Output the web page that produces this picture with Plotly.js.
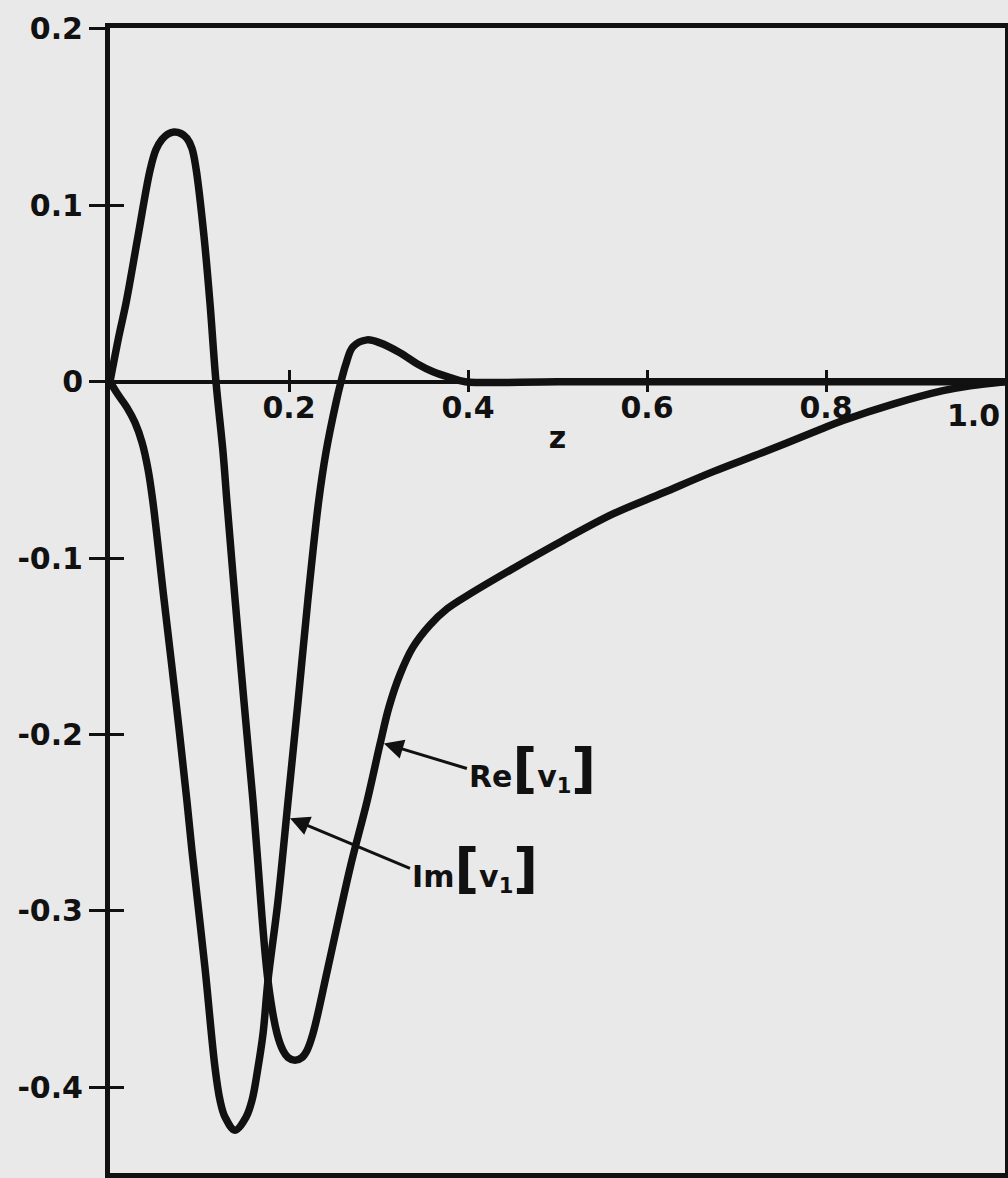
<!DOCTYPE html>
<html>
<head>
<meta charset="utf-8">
<script src="https://cdn.plot.ly/plotly-3.0.1.min.js"></script>
<style>
  html, body { margin: 0; padding: 0; background: #e9e9e9; }
  #chart { width: 1008px; height: 1178px; }
</style>
</head>
<body>
<div id="chart"></div>
<script>
// ---- data ----
const reZ = [0, 0.010, 0.0179, 0.0313, 0.0447, 0.0514, 0.0581, 0.0648, 0.0715, 0.0793, 0.086, 0.0916, 0.0961, 0.105, 0.1117, 0.1184,
  0.1263, 0.1307, 0.1397, 0.1497, 0.1598, 0.1642, 0.1765, 0.1866, 0.1933, 0.1989, 0.2067, 0.2145, 0.2201, 0.2268, 0.2436, 0.2682, 0.2872,
  0.3017, 0.3117, 0.324, 0.3385, 0.3575, 0.3765, 0.4022, 0.450, 0.506, 0.562, 0.618, 0.674, 0.730, 0.7933, 0.819, 0.8749, 0.9307, 0.961, 1.0];
const reV = [0, 0.026, 0.0446, 0.0825, 0.1198, 0.1316, 0.1373, 0.1404, 0.1415, 0.1407, 0.1379, 0.1322, 0.1209, 0.0825, 0.0446, 0,
  -0.0401, -0.0684, -0.1232, -0.1814, -0.2379, -0.2661, -0.3395, -0.3695, -0.3791, -0.3831, -0.3847, -0.3831, -0.3791, -0.3695, -0.332, -0.2757, -0.2379,
  -0.2055, -0.1845, -0.1660, -0.1505, -0.1379, -0.1288, -0.1203, -0.106, -0.090, -0.075, -0.063, -0.051, -0.040, -0.0271, -0.022, -0.0127, -0.0051, -0.0023, 0];

const imZ = [0, 0.0089, 0.019, 0.0279, 0.0358, 0.0425, 0.048, 0.0603, 0.0737, 0.086, 0.0916, 0.1061, 0.1173, 0.1229, 0.1285, 0.1397,
  0.152, 0.1587, 0.1654, 0.171, 0.1765, 0.1877, 0.1989, 0.2101, 0.2212, 0.2330, 0.2413, 0.2525, 0.2581, 0.2637, 0.2715, 0.2872, 0.3017,
  0.324, 0.343, 0.361, 0.380, 0.397, 0.5, 0.7, 1.0];
const imV = [0, -0.0073, -0.0147, -0.0232, -0.0345, -0.0497, -0.0684, -0.1232, -0.1814, -0.2379, -0.266, -0.3322, -0.3887, -0.4073, -0.4169, -0.4243,
  -0.4169, -0.4073, -0.3887, -0.3695, -0.3395, -0.2944, -0.2379, -0.1814, -0.1232, -0.0684, -0.0401, -0.0119, 0, 0.0102, 0.0198, 0.0237, 0.022,
  0.0164, 0.0102, 0.0056, 0.0023, 0, 0, 0, 0];

const yTickVals = [-0.4, -0.3, -0.2, -0.1, 0, 0.1, 0.2];
const yTickText = ['-0.4', '-0.3', '-0.2', '-0.1', '0', '0.1', '0.2'];
const xTickVals = [0.2, 0.4, 0.6, 0.8];
const xTickText = ['0.2', '0.4', '0.6', '0.8'];
const xEndLabel = '1.0';
const xTitle = 'z';
const reLabel = 'Re<span style="font-size:54px">[</span>v<sub>1</sub><span style="font-size:54px">]</span>';
const imLabel = 'Im<span style="font-size:54px">[</span>v<sub>1</sub><span style="font-size:54px">]</span>';
const reArrowAt = [0.306, -0.2051];
const imArrowAt = [0.2011, -0.2475];

// ---- chart ----
const INK = '#111111';
const BG = '#e9e9e9';
const FAM = 'DejaVu Sans, Arial, sans-serif';
const yRange = [-0.4486, 0.2005];
const xRange = [0, 1.0];
const zeroPos = (0 - yRange[0]) / (yRange[1] - yRange[0]);

const lineStyle = { color: INK, width: 7.5, shape: 'spline', smoothing: 1 };

const helper = (xa, ya) => ({ x: [null], y: [null], xaxis: xa, yaxis: ya, type: 'scatter', mode: 'lines', showlegend: false, hoverinfo: 'skip' });

const traces = [
  { x: reZ, y: reV, type: 'scatter', mode: 'lines', line: lineStyle, name: 'Re[v1]', showlegend: false, hoverinfo: 'skip' },
  { x: imZ, y: imV, type: 'scatter', mode: 'lines', line: lineStyle, name: 'Im[v1]', showlegend: false, hoverinfo: 'skip' },
  // empty helper traces so the overlay axes (zero-line ticks, inner y ticks) get drawn
  helper('x2', 'y'), helper('x3', 'y'), helper('x4', 'y'), helper('x', 'y2')
];

const tickFontY = { family: FAM, size: 30, color: INK, weight: 'bold' };
const tickFontX = { family: FAM, size: 30, color: INK, weight: 'bold' };

const layout = {
  width: 1008, height: 1178,
  margin: { l: 110, r: 3, t: 28, b: 5, pad: 0 },
  paper_bgcolor: BG, plot_bgcolor: BG,
  showlegend: false,
  xaxis: {
    range: xRange, domain: [0, 1], anchor: 'y',
    showline: true, linewidth: 5, linecolor: INK, mirror: true,
    ticks: '', showticklabels: false, showgrid: false, zeroline: false
  },
  // tick labels and title along the zero line
  xaxis2: {
    range: xRange, overlaying: 'x', anchor: 'free', position: zeroPos, side: 'bottom',
    showline: false, showgrid: false, zeroline: false,
    ticks: '', tickmode: 'array', tickvals: xTickVals, ticktext: xTickText,
    tickfont: tickFontX, ticklabelstandoff: 5,
    title: { text: xTitle, font: tickFontX, standoff: 3 }
  },
  // upper half of the zero-line ticks
  xaxis3: {
    range: xRange, overlaying: 'x', anchor: 'free', position: zeroPos, side: 'bottom',
    showline: false, showgrid: false, zeroline: false,
    ticks: 'inside', ticklen: 12, tickwidth: 3, tickcolor: INK,
    tickmode: 'array', tickvals: xTickVals, showticklabels: false
  },
  // lower half of the zero-line ticks
  xaxis4: {
    range: xRange, overlaying: 'x', anchor: 'free', position: zeroPos, side: 'top',
    showline: false, showgrid: false, zeroline: false,
    ticks: 'inside', ticklen: 9, tickwidth: 3, tickcolor: INK,
    tickmode: 'array', tickvals: xTickVals, showticklabels: false
  },
  yaxis: {
    range: yRange, domain: [0, 1], anchor: 'x',
    showline: true, linewidth: 5, linecolor: INK, mirror: true,
    ticks: 'outside', ticklen: 16, tickwidth: 3, tickcolor: INK,
    tickmode: 'array', tickvals: yTickVals, ticktext: yTickText,
    tickfont: tickFontY, showgrid: false,
    zeroline: true, zerolinewidth: 4, zerolinecolor: INK
  },
  yaxis2: {
    range: yRange, overlaying: 'y', anchor: 'x', side: 'left',
    showline: false, showgrid: false, zeroline: false,
    ticks: 'inside', ticklen: 14, tickwidth: 3, tickcolor: INK,
    tickmode: 'array', tickvals: yTickVals.slice(0, 6), showticklabels: false
  },
  annotations: [
    { x: 1.0, y: 0, xref: 'x', yref: 'y', text: xEndLabel, showarrow: false,
      xanchor: 'right', yanchor: 'top', xshift: -3, yshift: -14, font: tickFontX },
    { x: reArrowAt[0], y: reArrowAt[1], xref: 'x', yref: 'y', text: reLabel,
      showarrow: true, arrowhead: 2, arrowsize: 1.3, arrowwidth: 3, arrowcolor: INK,
      ax: 83, ay: 25, xanchor: 'left', yanchor: 'middle', standoff: 0,
      font: { family: FAM, size: 30, color: INK, weight: 'bold' } },
    { x: imArrowAt[0], y: imArrowAt[1], xref: 'x', yref: 'y', text: imLabel,
      showarrow: true, arrowhead: 2, arrowsize: 1.3, arrowwidth: 3, arrowcolor: INK,
      ax: 120, ay: 50, xanchor: 'left', yanchor: 'middle', standoff: 0,
      font: { family: FAM, size: 30, color: INK, weight: 'bold' } }
  ]
};

Plotly.newPlot('chart', traces, layout, { staticPlot: true, displayModeBar: false });
</script>
</body>
</html>
